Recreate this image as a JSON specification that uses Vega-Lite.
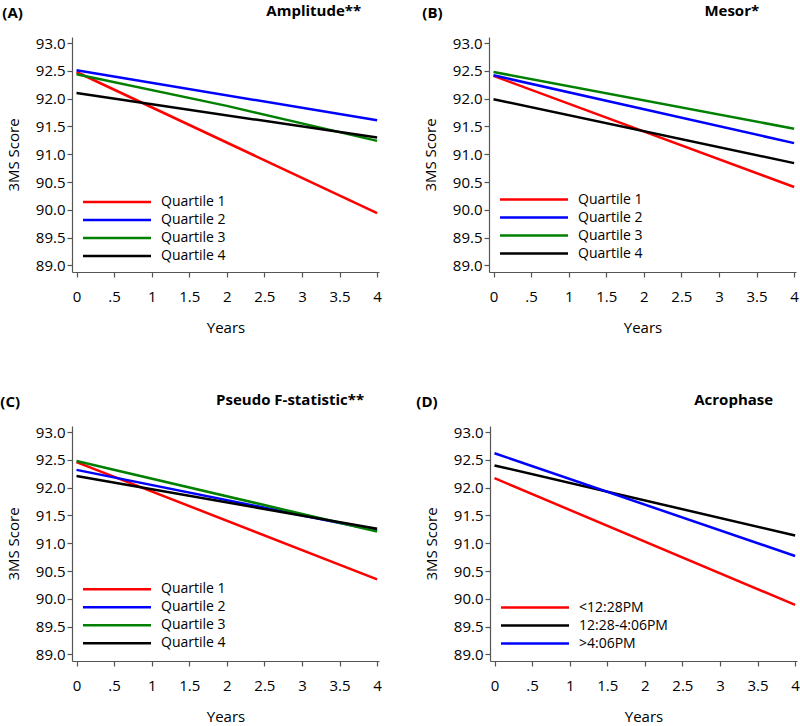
{
  "$schema": "https://vega.github.io/schema/vega-lite/v6.json",
  "padding": {"left": 0, "top": 4, "right": 0, "bottom": 2},
  "data": {"values": [
    {"panel": "A", "group": "Quartile 1", "year": 0, "score": 92.48},
    {"panel": "A", "group": "Quartile 1", "year": 4, "score": 89.94},
    {"panel": "A", "group": "Quartile 2", "year": 0, "score": 92.51},
    {"panel": "A", "group": "Quartile 2", "year": 4, "score": 91.61},
    {"panel": "A", "group": "Quartile 3", "year": 0, "score": 92.44},
    {"panel": "A", "group": "Quartile 3", "year": 2, "score": 91.87},
    {"panel": "A", "group": "Quartile 3", "year": 4, "score": 91.24},
    {"panel": "A", "group": "Quartile 4", "year": 0, "score": 92.1},
    {"panel": "A", "group": "Quartile 4", "year": 4, "score": 91.3},
    {"panel": "B", "group": "Quartile 1", "year": 0, "score": 92.41},
    {"panel": "B", "group": "Quartile 1", "year": 4, "score": 90.41},
    {"panel": "B", "group": "Quartile 2", "year": 0, "score": 92.42},
    {"panel": "B", "group": "Quartile 2", "year": 4, "score": 91.2},
    {"panel": "B", "group": "Quartile 3", "year": 0, "score": 92.48},
    {"panel": "B", "group": "Quartile 3", "year": 4, "score": 91.46},
    {"panel": "B", "group": "Quartile 4", "year": 0, "score": 91.99},
    {"panel": "B", "group": "Quartile 4", "year": 4, "score": 90.84},
    {"panel": "C", "group": "Quartile 1", "year": 0, "score": 92.46},
    {"panel": "C", "group": "Quartile 1", "year": 4, "score": 90.35},
    {"panel": "C", "group": "Quartile 2", "year": 0, "score": 92.32},
    {"panel": "C", "group": "Quartile 2", "year": 4, "score": 91.23},
    {"panel": "C", "group": "Quartile 3", "year": 0, "score": 92.48},
    {"panel": "C", "group": "Quartile 3", "year": 4, "score": 91.21},
    {"panel": "C", "group": "Quartile 4", "year": 0, "score": 92.21},
    {"panel": "C", "group": "Quartile 4", "year": 4, "score": 91.26},
    {"panel": "D", "group": "<12:28PM", "year": 0, "score": 92.17},
    {"panel": "D", "group": "<12:28PM", "year": 4, "score": 89.89},
    {"panel": "D", "group": "12:28-4:06PM", "year": 0, "score": 92.4},
    {"panel": "D", "group": "12:28-4:06PM", "year": 4, "score": 91.14},
    {"panel": "D", "group": ">4:06PM", "year": 0, "score": 92.62},
    {"panel": "D", "group": ">4:06PM", "year": 4, "score": 90.77}
  ]},
  "config": {
    "font": "Open Sans",
    "view": {"stroke": null},
    "axis": {"labelFontSize": 15, "titleFontSize": 15, "titleFontWeight": "normal", "labelColor": "#000", "titleColor": "#000", "domainColor": "#555", "tickColor": "#555", "grid": false, "tickSize": 5, "domainWidth": 1.2, "tickWidth": 1.2},
    "axisX": {"labelPadding": 12, "titlePadding": 16},
    "axisY": {"labelPadding": 2, "titlePadding": 14},
    "title": {"fontSize": 15, "fontWeight": "bold", "color": "#000"},
    "legend": {"orient": "none", "title": null, "symbolType": "M-4,0H4", "symbolSize": 289, "symbolStrokeWidth": 2.5, "labelFontSize": 14, "labelColor": "#000", "labelOffset": 34, "padding": 0, "rowPadding": 1},
    "line": {"strokeWidth": 2.5}
  },
  "resolve": {"scale": {"color": "independent"}, "legend": {"color": "independent"}},
  "spacing": 58,
  "vconcat": [
    {
      "spacing": 39,
      "resolve": {"scale": {"color": "independent"}, "legend": {"color": "independent"}},
      "hconcat": [
        {
          "title": {"text": "(A)", "anchor": "start", "frame": "bounds", "dy": 21, "dx": -4},
          "resolve": {"scale": {"color": "independent"}, "legend": {"color": "independent"}},
          "vconcat": [{
            "width": 307, "height": 235,
            "title": {"text": "Amplitude**", "anchor": "end", "dx": -21, "offset": 17},
            "transform": [{"filter": "datum.panel === 'A'"}],
            "mark": {"type": "line"},
            "encoding": {
              "x": {"field": "year", "type": "quantitative", "scale": {"domain": [-0.06, 4.025], "nice": false, "zero": false}, "axis": {"values": [0, 0.5, 1, 1.5, 2, 2.5, 3, 3.5, 4], "labelExpr": "datum.value == 0.5 ? '.5' : format(datum.value, '~g')", "title": "Years"}},
              "y": {"field": "score", "type": "quantitative", "scale": {"domain": [88.88, 93.11], "nice": false, "zero": false}, "axis": {"values": [89, 89.5, 90, 90.5, 91, 91.5, 92, 92.5, 93], "format": ".1f", "title": "3MS Score"}},
              "color": {"field": "group", "type": "nominal", "scale": {"domain": ["Quartile 1", "Quartile 2", "Quartile 3", "Quartile 4"], "range": ["#ff0000", "#0000ff", "#008000", "#000000"]}, "legend": {"legendX": 35, "legendY": 155}}
            }
          }]
        },
        {
          "title": {"text": "(B)", "anchor": "start", "frame": "bounds", "dy": 21, "dx": -1},
          "resolve": {"scale": {"color": "independent"}, "legend": {"color": "independent"}},
          "vconcat": [{
            "width": 307, "height": 235,
            "title": {"text": "Mesor*", "anchor": "end", "dx": -40, "offset": 17},
            "transform": [{"filter": "datum.panel === 'B'"}],
            "mark": {"type": "line"},
            "encoding": {
              "x": {"field": "year", "type": "quantitative", "scale": {"domain": [-0.06, 4.025], "nice": false, "zero": false}, "axis": {"values": [0, 0.5, 1, 1.5, 2, 2.5, 3, 3.5, 4], "labelExpr": "datum.value == 0.5 ? '.5' : format(datum.value, '~g')", "title": "Years"}},
              "y": {"field": "score", "type": "quantitative", "scale": {"domain": [88.88, 93.11], "nice": false, "zero": false}, "axis": {"values": [89, 89.5, 90, 90.5, 91, 91.5, 92, 92.5, 93], "format": ".1f", "title": "3MS Score"}},
              "color": {"field": "group", "type": "nominal", "scale": {"domain": ["Quartile 1", "Quartile 2", "Quartile 3", "Quartile 4"], "range": ["#ff0000", "#0000ff", "#008000", "#000000"]}, "legend": {"legendX": 35, "legendY": 152.6}}
            }
          }]
        }
      ]
    },
    {
      "spacing": 33,
      "resolve": {"scale": {"color": "independent"}, "legend": {"color": "independent"}},
      "hconcat": [
        {
          "title": {"text": "(C)", "anchor": "start", "frame": "bounds", "dy": 21, "dx": -6},
          "resolve": {"scale": {"color": "independent"}, "legend": {"color": "independent"}},
          "vconcat": [{
            "width": 307, "height": 235,
            "title": {"text": "Pseudo F-statistic**", "anchor": "end", "dx": -18, "offset": 17},
            "transform": [{"filter": "datum.panel === 'C'"}],
            "mark": {"type": "line"},
            "encoding": {
              "x": {"field": "year", "type": "quantitative", "scale": {"domain": [-0.06, 4.025], "nice": false, "zero": false}, "axis": {"values": [0, 0.5, 1, 1.5, 2, 2.5, 3, 3.5, 4], "labelExpr": "datum.value == 0.5 ? '.5' : format(datum.value, '~g')", "title": "Years"}},
              "y": {"field": "score", "type": "quantitative", "scale": {"domain": [88.88, 93.11], "nice": false, "zero": false}, "axis": {"values": [89, 89.5, 90, 90.5, 91, 91.5, 92, 92.5, 93], "format": ".1f", "title": "3MS Score"}},
              "color": {"field": "group", "type": "nominal", "scale": {"domain": ["Quartile 1", "Quartile 2", "Quartile 3", "Quartile 4"], "range": ["#ff0000", "#0000ff", "#008000", "#000000"]}, "legend": {"legendX": 35, "legendY": 153.2}}
            }
          }]
        },
        {
          "title": {"text": "(D)", "anchor": "start", "frame": "bounds", "dy": 21, "dx": -8},
          "resolve": {"scale": {"color": "independent"}, "legend": {"color": "independent"}},
          "vconcat": [{
            "width": 307, "height": 235,
            "title": {"text": "Acrophase", "anchor": "end", "dx": -27, "offset": 17},
            "transform": [{"filter": "datum.panel === 'D'"}],
            "mark": {"type": "line"},
            "encoding": {
              "x": {"field": "year", "type": "quantitative", "scale": {"domain": [-0.06, 4.025], "nice": false, "zero": false}, "axis": {"values": [0, 0.5, 1, 1.5, 2, 2.5, 3, 3.5, 4], "labelExpr": "datum.value == 0.5 ? '.5' : format(datum.value, '~g')", "title": "Years"}},
              "y": {"field": "score", "type": "quantitative", "scale": {"domain": [88.88, 93.11], "nice": false, "zero": false}, "axis": {"values": [89, 89.5, 90, 90.5, 91, 91.5, 92, 92.5, 93], "format": ".1f", "title": "3MS Score"}},
              "color": {"field": "group", "type": "nominal", "scale": {"domain": ["<12:28PM", "12:28-4:06PM", ">4:06PM"], "range": ["#ff0000", "#000000", "#0000ff"]}, "legend": {"legendX": 35, "legendY": 171.6}}
            }
          }]
        }
      ]
    }
  ]
}
